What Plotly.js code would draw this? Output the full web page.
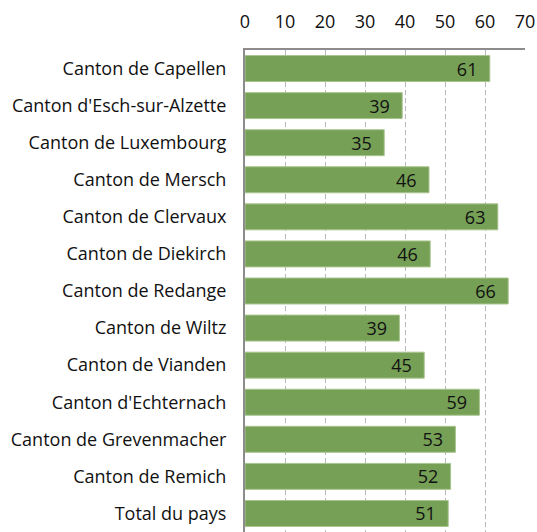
<!DOCTYPE html>
<html><head><meta charset="utf-8">
<script src="https://cdn.plot.ly/plotly-3.0.1.min.js"></script>
<style>body{margin:0;background:#fff}#c{width:537px;height:532px}</style>
</head><body><div id="c"></div>
<script>
const categories = ["Canton de Capellen","Canton d'Esch-sur-Alzette","Canton de Luxembourg","Canton de Mersch","Canton de Clervaux","Canton de Diekirch","Canton de Redange","Canton de Wiltz","Canton de Vianden","Canton d'Echternach","Canton de Grevenmacher","Canton de Remich","Total du pays"];
const values = [61.2, 39.3, 34.8, 46.0, 63.2, 46.3, 65.8, 38.6, 44.8, 58.6, 52.6, 51.4, 50.8];
const labels = ["61","39","35","46","63","46","66","39","45","59","53","52","51"];
const xTicks = [0,10,20,30,40,50,60,70];

const pad = '\u00a0\u00a0';
Plotly.newPlot('c', [{
  type: 'bar', orientation: 'h',
  y: categories, x: values,
  text: labels.map(s => s + pad),
  textposition: 'inside', insidetextanchor: 'end', constraintext: 'none',
  textfont: {family: 'Open Sans, sans-serif', size: 18, color: '#111'},
  marker: {color: '#76a056', line: {color: '#a8c48e', width: 1}},
  hoverinfo: 'none'
}], {
  width: 537, height: 532,
  margin: {l: 245, r: 12, t: 50, b: 0, pad: 0},
  paper_bgcolor: '#fff', plot_bgcolor: '#fff',
  bargap: 0.3,
  showlegend: false,
  font: {family: 'Open Sans, sans-serif', size: 18, color: '#111'},
  xaxis: {
    side: 'top', range: [0, 70], tickvals: xTicks, ticktext: xTicks.map(String),
    showgrid: true, gridcolor: '#b8b8b8', griddash: '5px,3px', gridwidth: 1,
    zeroline: false, showline: true, linecolor: '#8c8c8c', linewidth: 2,
    ticks: '', ticklabelstandoff: 13, tickfont: {size: 18, color: '#111'}, fixedrange: true
  },
  yaxis: {
    autorange: false, range: [12.5, -0.5], type: 'category',
    showgrid: false, zeroline: false, showline: true, linecolor: '#8c8c8c', linewidth: 2,
    ticks: '', ticklabelstandoff: 13, tickfont: {size: 18, color: '#111'}, fixedrange: true
  }
}, {displayModeBar: false, staticPlot: true});
</script></body></html>
